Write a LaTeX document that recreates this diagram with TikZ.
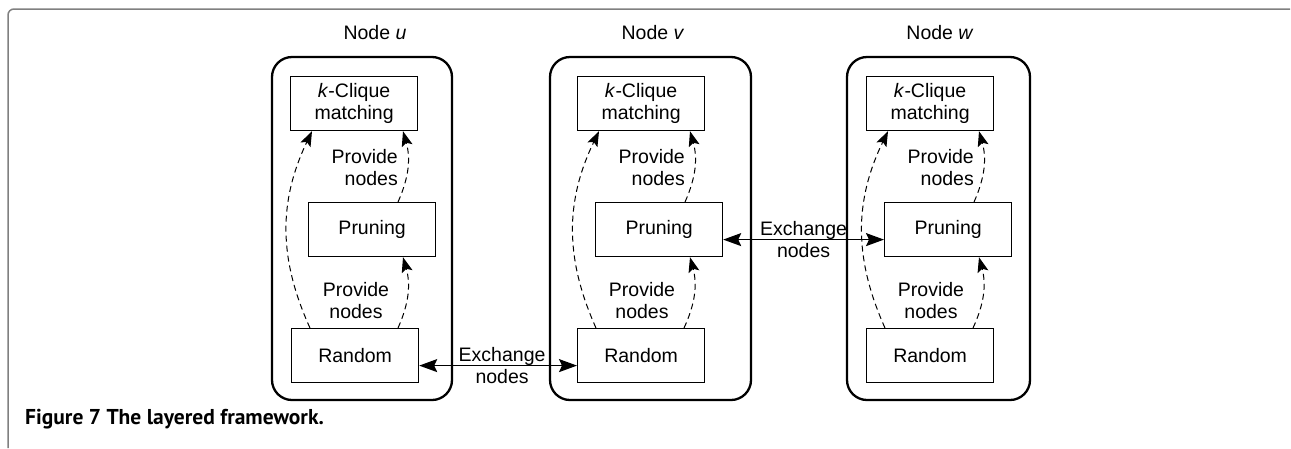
\documentclass[tikz,border=0pt]{standalone}
\usepackage{fontspec}
\setmainfont{Liberation Sans}
\newfontfamily\capfont{PT Sans}
\usetikzlibrary{arrows.meta,calc}
\begin{document}
\begin{tikzpicture}[x=1pt,y=-1pt,
 cont/.style={draw,line width=2.3pt,rounded corners=20pt},
 box/.style={draw,line width=1.2pt,minimum width=127pt,minimum height=54pt,inner sep=0pt,anchor=north west,align=center,font=\fontsize{19.5}{21.5}\selectfont},
 lbl/.style={font=\fontsize{19.5}{22}\selectfont,inner sep=0pt},
 dasharrow/.style={dash pattern=on 6pt off 4pt,line width=1pt,-{Stealth[length=15pt,width=11pt,inset=3pt]}},
 xarrow/.style={line width=1.4pt,{Stealth[length=18pt,width=13pt,inset=3pt]}-{Stealth[length=18pt,width=13pt,inset=3pt]}}]
\useasboundingbox (0,0) rectangle (1291,448);
\draw[gray,line width=1.5pt,rounded corners=6pt] (8,448) -- (8,9) -- (1290,9);
\foreach \n/\L/\R/\k/\p/\r/\t in {u/272/452/290/308/291/375, v/550/751/577/595/577/653, w/847/1030/866/884/866/940} {
  \draw[cont] (\L,57) rectangle (\R,400);
  \node[lbl] (t\n) at (\t,33) {Node \textit{\n}};
  \node[box] (k\n) at (\k,76) {\textit{k}-Clique\\matching};
  \node[box] (p\n) at (\p,202) {Pruning};
  \node[box] (r\n) at (\r,328) {Random};
  \draw[dasharrow] ([xshift=19pt]r\n.north west) to[bend left=25] ([xshift=22pt]k\n.south west);
  \draw[dasharrow] ([xshift=90pt]p\n.north west) to[bend right=20] ([xshift=113pt]k\n.south west);
  \draw[dasharrow] ([xshift=107pt]r\n.north west) to[bend right=20] ([xshift=95pt]p\n.south west);
  \node[lbl,align=right,anchor=east] (a\n) at ({\p+90},167.5) {Provide\\nodes};
  \node[lbl,align=center] (b\n) at ({\r+65},301) {Provide\\nodes};
}
\draw[xarrow] ([yshift=-10pt]ru.east) -- ([yshift=-10pt]rv.west) node[midway,lbl,align=center,xshift=4pt] (x1) {Exchange\\nodes};
\draw[xarrow] ([yshift=-10pt]pv.east) -- ([yshift=-10pt]pw.west) node[midway,lbl,align=center] (x2) {Exchange\\nodes};
\node[anchor=west,inner sep=0pt,font=\capfont\bfseries\fontsize{21.5}{24}\selectfont] (cap) at (25,419) {Figure 7 The layered framework.};
\end{tikzpicture}
\end{document}
